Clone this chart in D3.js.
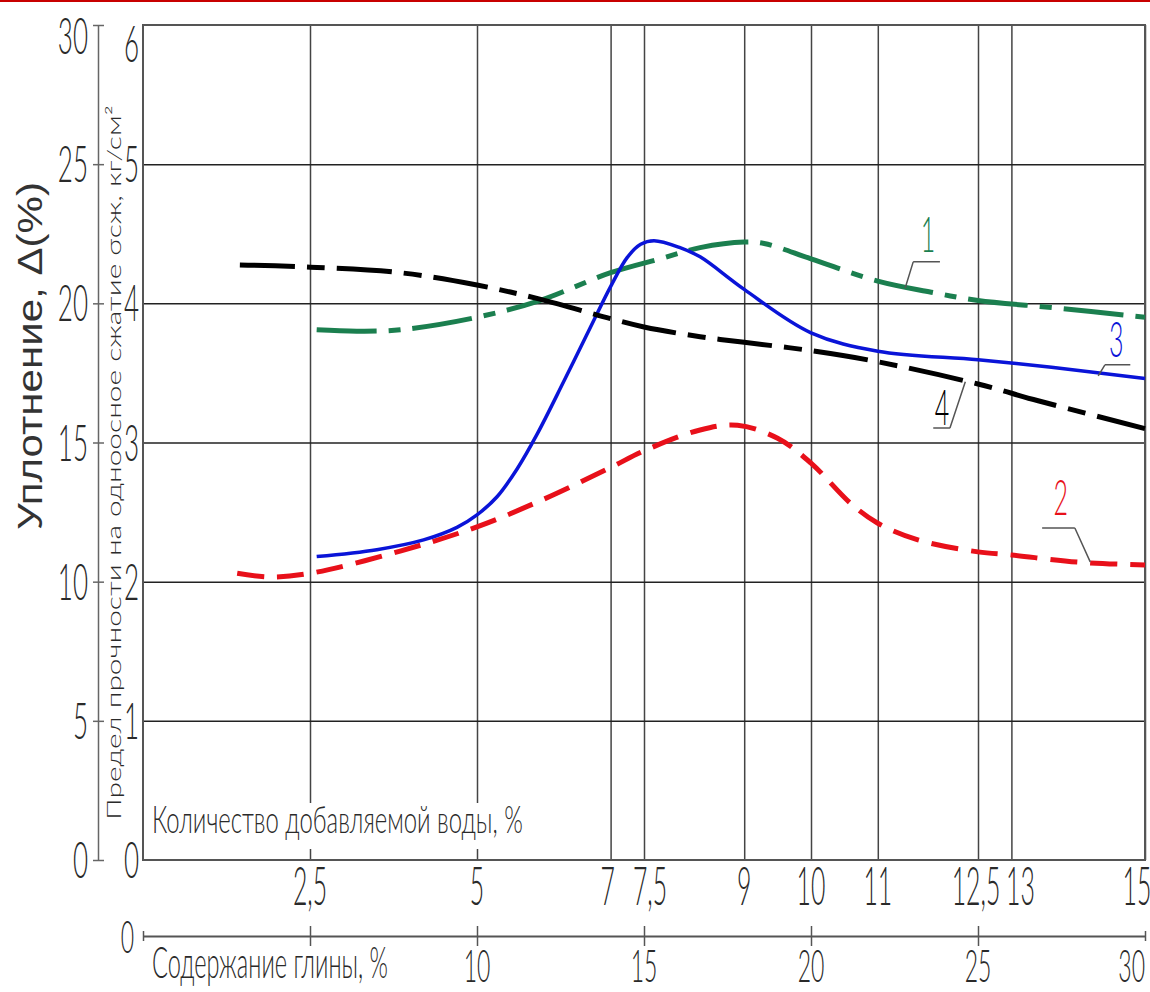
<!DOCTYPE html>
<html>
<head>
<meta charset="utf-8">
<script src="https://cdn.jsdelivr.net/npm/d3@7"></script>
<style>
  body { margin: 0; background: #fff; }
  svg text { font-family: Lato, 'Liberation Sans', Arial, sans-serif; font-weight: 300; }
  svg text.sans { font-family: 'Liberation Sans', Arial, sans-serif; font-weight: 400; }
</style>
</head>
<body>
<div id="chart"></div>
<script>
const width = 1150;
const height = 992;

// axis values
const waterTicks = [2.5, 5, 7, 7.5, 9, 10, 11, 12.5, 13, 15];
const waterLabels = ['2,5', '5', '7', '7,5', '9', '10', '11', '12,5', '13', '15'];
const clayTicks = [0, 5, 10, 15, 20, 25, 30];
const clayLabels = [10, 15, 20, 25, 30];
const densityTicks = [0, 5, 10, 15, 20, 25, 30];
const strengthTicks = [0, 1, 2, 3, 4, 5, 6];
const hGrid = [5, 10, 15, 20, 25];

// curves: [water %, compaction %]
const curve1 = [[2.6, 19.05], [3.2, 19.0], [3.85, 19.05], [5, 19.5], [5.94, 20.1], [7, 21.1],
  [7.74, 21.6], [8.34, 22.0], [9, 22.2], [9.3, 22.15], [10, 21.6], [11, 20.8], [11.8, 20.4],
  [12.5, 20.1], [13.6, 19.85], [15, 19.5]];
const curve2 = [[1.41, 10.3], [1.9, 10.17], [2.5, 10.3], [3.85, 11.1], [5, 11.97], [5.94, 12.9],
  [7, 14.1], [7.5, 14.7], [8.34, 15.45], [8.9, 15.62], [9.5, 15.15], [10, 14.26], [10.6, 12.8],
  [11, 12.1], [11.6, 11.5], [12.5, 11.07], [13, 10.96], [14, 10.7], [15, 10.6]];
const curve3 = [[2.6, 10.9], [3.5, 11.15], [4.2, 11.5], [4.7, 11.95], [5, 12.4], [5.3, 13.05],
  [5.6, 14.05], [5.9, 15.3], [6.3, 17.2], [6.7, 19.15], [7, 20.6], [7.25, 21.65], [7.45, 22.12],
  [7.65, 22.25], [8.04, 22.0], [8.34, 21.67], [9, 20.5], [10, 18.94], [11, 18.28], [12.5, 17.97],
  [13.6, 17.7], [15, 17.3]];
const curve4 = [[1.45, 21.38], [2.5, 21.3], [3.85, 21.1], [5, 20.66], [5.94, 20.15], [7, 19.45],
  [7.5, 19.15], [8.34, 18.8], [9, 18.6], [10, 18.3], [11, 17.9], [12.5, 17.1], [13.4, 16.5],
  [15, 15.5]];

// callouts: label, label pos, leader shelf [x1, x2, y], leader end
const calloutNames = ['1', '2', '3', '4'];
const calloutText = [[11.75, 21.85], [13.74, 12.4], [14.57, 18.07], [11.96, 15.63]];
const calloutShelf = [[11.53, 11.93, 21.49], [13.46, 13.95, 11.93], [14.4, 14.78, 17.79], [11.83, 12.08, 15.52]];
const calloutEnd = [[11.41, 20.55], [14.18, 10.71], [14.3, 17.39], [12.31, 17.18]];
const calloutFrom = ['left', 'right', 'left', 'right'];

const colors = ['#1b7f4f', '#e8101a', '#0a14d8', '#000'];
const dashes = ['60 12 12 12', '27 13', null, '55 12 18 12'];

const x = d3.scaleLinear().domain([0, 15]).range([143, 1145]);
const xClay = d3.scaleLinear().domain([0, 30]).range([143, 1145]);
const y = d3.scaleLinear().domain([0, 30]).range([860, 25]);
const yStr = d3.scaleLinear().domain([0, 6]).range([860, 25]);

const svg = d3.select('#chart').append('svg').attr('width', width).attr('height', height);
svg.append('rect').attr('width', width).attr('height', height).attr('fill', '#fff');
svg.append('rect').attr('width', width).attr('height', 2).attr('fill', '#c80000');

const ink = '#2a2a2a';

// narrow drafting-style text
function gost(g, px, py, str, size, sx, anchor, color) {
  return g.append('text')
    .attr('transform', `translate(${px},${py}) scale(${sx},1)`)
    .attr('text-anchor', anchor || 'middle')
    .attr('font-size', size)
    .attr('fill', color || ink)
    .text(str);
}

// squeeze a text to a given length along its own direction
function fitText(g, px, py, str, size, len, rot, cls) {
  const t = g.append('text')
    .attr('class', cls || null)
    .attr('font-size', size)
    .attr('fill', ink)
    .text(str);
  const natural = t.node().getComputedTextLength();
  t.attr('transform', `translate(${px},${py}) rotate(${rot || 0}) scale(${len / natural},1)`);
  return t;
}

// grid
const gx = svg.append('g').attr('transform', `translate(0,${y(0)})`)
  .call(d3.axisBottom(x).tickValues(waterTicks).tickSize(-(y(0) - y(30))).tickFormat(''));
gx.select('.domain').remove();
gx.selectAll('line').attr('stroke', '#444').attr('stroke-width', 1.5);

const gy = svg.append('g').attr('transform', `translate(${x(0)},0)`)
  .call(d3.axisLeft(y).tickValues(hGrid).tickSize(-(x(15) - x(0))).tickFormat(''));
gy.select('.domain').remove();
gy.selectAll('line').attr('stroke', '#222').attr('stroke-width', 1.5);

svg.append('rect')
  .attr('x', x(0)).attr('y', y(30))
  .attr('width', x(15) - x(0)).attr('height', y(0) - y(30))
  .attr('fill', 'none').attr('stroke', '#555').attr('stroke-width', 2);

// outer left axis (compaction)
const ga = svg.append('g').attr('transform', 'translate(98,0)')
  .call(d3.axisLeft(y).tickValues(densityTicks).tickSize(5).tickSizeOuter(0).tickFormat(''));
ga.select('.domain').attr('stroke', '#666').attr('stroke-width', 1.5);
ga.selectAll('line').attr('x1', 6).attr('stroke', '#666').attr('stroke-width', 1.5);

const labels = svg.append('g');
densityTicks.forEach(v => gost(labels, 88, Math.max(y(v) + 18, 54), v, 52, 0.5, 'end'));
strengthTicks.forEach(v => gost(labels, 139, Math.max(yStr(v) + 18, 62), v, 52, 0.5, 'end'));

// water labels under the plot
const nudge = {'7': -3, '7,5': 6, '12,5': -2, '13': 9, '15': -8};
waterTicks.forEach((v, i) => {
  const t = waterLabels[i];
  gost(labels, x(v) + (nudge[t] || 0), 905, t, 54, 0.46, 'middle');
});

// clay axis
const gc = svg.append('g').attr('transform', 'translate(0,936)')
  .call(d3.axisBottom(xClay).tickValues(clayTicks).tickSize(10).tickSizeOuter(0).tickFormat(''));
gc.select('.domain').attr('stroke', '#555').attr('stroke-width', 2);
gc.selectAll('.tick line').attr('y1', d => (d === 0 || d === 30) ? -5 : -10)
  .attr('y2', d => (d === 0 || d === 30) ? 5 : 10)
  .attr('stroke', '#555').attr('stroke-width', 1.5);
gost(labels, 134, 953, '0', 46, 0.5, 'end');
clayLabels.forEach(v => gost(labels, xClay(v), 982, v, 46, 0.5, v === 30 ? 'end' : 'middle'));
fitText(labels, 152, 978, 'Содержание глины, %', 44, 236);

// water caption inside the plot with white backing
const cap = svg.append('g');
cap.append('rect').attr('x', 148).attr('y', 803).attr('width', 382).attr('height', 46).attr('fill', '#fff');
fitText(cap, 152, 833, 'Количество добавляемой воды, %', 38, 371);

// rotated titles
fitText(svg, 42, 530, 'Уплотнение, Δ(%)', 35, 348, -90, 'sans').attr('fill', '#333');
fitText(svg, 121, 820, 'Предел прочности на одноосное сжатие σсж, кг/см²', 19, 715, -90);

// curves
const line = d3.line().x(d => x(d[0])).y(d => y(d[1])).curve(d3.curveCatmullRom.alpha(0.5));
[curve1, curve2, curve3, curve4].forEach((c, i) => {
  svg.append('path')
    .attr('d', line(c))
    .attr('fill', 'none')
    .attr('stroke', colors[i])
    .attr('stroke-width', i === 2 ? 3.5 : 5)
    .attr('stroke-dasharray', dashes[i])
    .attr('stroke-linecap', 'butt');
});

// callouts
const co = svg.append('g');
calloutNames.forEach((n, i) => {
  const s = calloutShelf[i];
  const sx0 = calloutFrom[i] === 'left' ? s[0] : s[1];
  co.append('path')
    .attr('d', `M${x(s[1])},${y(s[2])}L${x(s[0])},${y(s[2])}M${x(sx0)},${y(s[2])}L${x(calloutEnd[i][0])},${y(calloutEnd[i][1])}`)
    .attr('fill', 'none').attr('stroke', '#555').attr('stroke-width', 1.5);
  gost(co, x(calloutText[i][0]), y(calloutText[i][1]), n, 50, 0.5, 'middle', colors[i]);
});
</script>
</body>
</html>
